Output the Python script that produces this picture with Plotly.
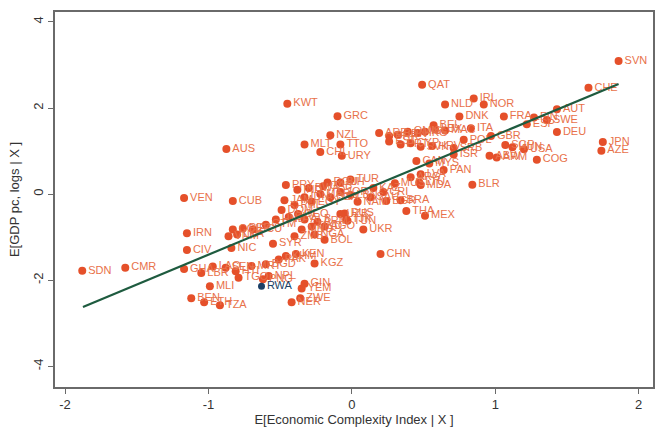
import plotly.graph_objects as go

# ---- data ----
codes = [
    "SVN", "CHE", "QAT", "KWT", "IRL", "NLD", "NOR", "GRC", "DNK", "FRA",
    "AUT", "BEL", "ITA", "SWE", "FIN", "ESP", "DEU", "JPN", "AZE", "GBR",
    "SGP", "HUN", "USA", "COG", "ABW", "ARM", "ISR", "PAN", "BLR", "LVA",
    "LTU", "MDA", "CAN", "MYS", "POL", "ARE", "BHR", "BRN", "OMN", "HKG",
    "ISL", "LUX", "MAC", "EST", "PRT", "CYP", "SVK", "HRV", "SRB", "ARG",
    "AUS", "NZL", "MLT", "TTO", "CHL", "URY", "PRY", "ROU", "TUR", "BIH",
    "KAZ", "VEN", "CUB", "IRN", "CIV", "GHA", "NIC", "SYR", "BOL", "UKR",
    "RUS", "TUN", "NAM", "BGR", "BRA", "THA", "MEX", "CHN", "KEN", "KGZ",
    "SDN", "CMR", "MLI", "BEN", "ETH", "TZA", "NER", "ZWE", "YEM", "GIN",
    "LBR", "SEN", "TGO", "MRT", "BGD", "NPL", "PAK", "KHM", "LAO", "HTI",
    "COL", "PER", "ECU", "GTM", "HND", "SLV", "DOM", "JAM", "PHL", "IDN",
    "EGY", "MAR", "DZA", "JOR", "LBN", "GEO", "ALB", "MKD", "MNG", "ARM",
    "AGO", "NGA", "ZMB", "UZB", "TJK", "VNM", "LKA", "IND", "BWA", "GAB",
    "SAU", "CRI", "MUS", "PNG",
]
eci = [
    1.86, 1.65, 0.49, -0.45, 0.85, 0.65, 0.92, -0.10, 0.75, 1.06,
    1.43, 0.57, 0.83, 1.36, 1.27, 1.22, 1.43, 1.75, 1.74, 0.97,
    1.07, 1.12, 1.20, 1.29, 0.96, 1.01, 0.71, 0.64, 0.84, 0.48,
    0.47, 0.48, 0.45, 0.54, 0.78, 0.19, 0.26, 0.32, 0.39, 0.46,
    0.51, 0.58, 0.65, 0.26, 0.34, 0.41, 0.48, 0.56, 0.71, 0.41,
    -0.875, -0.15, -0.33, -0.08, -0.22, -0.07, -0.46, -0.17, -0.01, -0.08,
    0.15, -1.17, -0.83, -1.15, -1.15, -1.17, -0.84, -0.55, -0.19, 0.08,
    -0.05, -0.03, 0.04, 0.24, 0.34, 0.38, 0.51, 0.20, -0.39, -0.26,
    -1.88, -1.58, -0.99, -1.12, -1.03, -0.92, -0.42, -0.36, -0.35, -0.33,
    -1.05, -0.88, -0.79, -0.70, -0.60, -0.58, -0.51, -0.46, -0.97, -0.81,
    -0.83, -0.76, -0.69, -0.60, -0.53, -0.44, -0.49, -0.47, -0.40, -0.33,
    -0.28, -0.22, -0.15, -0.08, -0.01, -0.375, -0.33, -0.28, -0.35, -0.24,
    -0.19, -0.26, -0.40, -0.08, -0.04, -0.86, -0.80, -0.38, -0.30, -0.20,
    0.13, 0.22, 0.30, -0.62,
]
gdp = [
    3.09, 2.47, 2.54, 2.10, 2.22, 2.08, 2.08, 1.81, 1.80, 1.80,
    1.97, 1.60, 1.53, 1.72, 1.78, 1.62, 1.44, 1.21, 1.01, 1.35,
    1.14, 1.09, 1.04, 0.80, 0.89, 0.85, 0.92, 0.56, 0.22, 0.46,
    0.27, 0.21, 0.77, 0.71, 1.26, 1.42, 1.35, 1.38, 1.45, 1.42,
    1.45, 1.50, 1.48, 1.22, 1.15, 1.18, 1.10, 1.12, 1.07, 0.39,
    1.05, 1.37, 1.15, 1.15, 0.98, 0.89, 0.21, 0.27, 0.34, 0.27,
    0.14, -0.09, -0.16, -0.91, -1.30, -1.74, -1.25, -1.15, -1.06, -0.82,
    -0.45, -0.62, -0.18, -0.16, -0.14, -0.39, -0.50, -1.39, -1.39, -1.61,
    -1.78, -1.71, -2.14, -2.42, -2.51, -2.58, -2.51, -2.42, -2.19, -2.08,
    -1.83, -1.71, -1.94, -1.67, -1.63, -1.90, -1.52, -1.44, -1.68, -1.79,
    -0.82, -0.80, -0.82, -0.71, -0.59, -0.53, -0.37, -0.14, -0.25, -0.07,
    -0.18, 0.00, -0.07, 0.05, -0.02, -0.46, -0.59, -0.75, -0.82, -0.64,
    -0.75, -0.94, -0.98, -0.46, -0.59, -0.98, -0.94, 0.10, 0.14, 0.18,
    -0.07, 0.05, 0.25, -1.98,
]
highlight = "RWA"
rwa_eci = [-0.63]
rwa_gdp = [-2.14]

# fitted line end points
fit_x = [-1.875, 1.86]
fit_y = [-2.62, 2.56]

x_ticks = [-2, -1, 0, 1, 2]
y_ticks = [-4, -2, 0, 2, 4]

RED = "#E5502A"
TXT = "#E8714A"
NAVY = "#1B3F66"
FONT = "Liberation Sans, Arial, sans-serif"

fig = go.Figure()
fig.add_trace(go.Scatter(
    x=eci, y=gdp, mode="markers+text", text=codes,
    textposition="middle right",
    textfont=dict(family=FONT, size=11, color=TXT),
    marker=dict(color=RED, size=8, line=dict(width=0)),
    hoverinfo="text", showlegend=False,
))
fig.add_trace(go.Scatter(
    x=rwa_eci, y=rwa_gdp, mode="markers+text", text=[highlight],
    textposition="middle right",
    textfont=dict(family=FONT, size=11, color=NAVY),
    marker=dict(color=NAVY, size=7),
    showlegend=False,
))
fig.add_trace(go.Scatter(
    x=fit_x, y=fit_y, mode="lines",
    line=dict(color="#1E5B3F", width=2.2),
    showlegend=False,
))

fig.update_layout(
    width=662, height=428,
    margin=dict(l=55, r=7, t=12, b=35),
    paper_bgcolor="white", plot_bgcolor="white",
    font=dict(family=FONT, color="#333333", size=13),
)
fig.update_xaxes(
    range=[-2.07, 2.1], tickvals=x_ticks, ticktext=[str(v) for v in x_ticks],
    showgrid=False, zeroline=False, showline=True, mirror=True,
    linecolor="#6a6a6a", linewidth=1.5, ticks="outside", ticklen=5,
    tickcolor="#6a6a6a", tickfont=dict(size=13, color="#333333"),
    title=dict(text="E[Economic Complexity Index | X ]", standoff=0,
               font=dict(size=13, color="#333333")),
)
fig.update_yaxes(
    range=[-4.48, 4.23], tickvals=y_ticks, ticktext=[str(v) for v in y_ticks],
    showgrid=False, zeroline=False, showline=True, mirror=True,
    linecolor="#6a6a6a", linewidth=1.5, ticks="outside", ticklen=5,
    tickcolor="#6a6a6a", tickangle=-90, tickfont=dict(size=13, color="#333333"),
    title=dict(text="E[GDP pc, logs | X ]", standoff=8,
               font=dict(size=13, color="#333333")),
)

fig.write_html("out.html")
